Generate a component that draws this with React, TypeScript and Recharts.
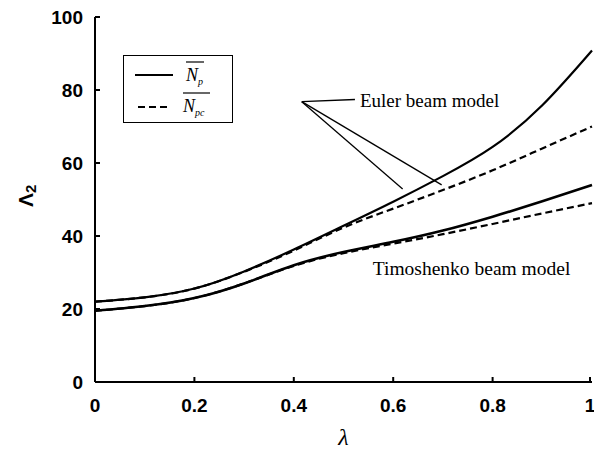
import React from 'react';
import { LineChart, Line, XAxis, YAxis, Legend, ReferenceLine, ReferenceDot } from 'recharts';

const lambdas = [0, 0.1, 0.2, 0.3, 0.4, 0.5, 0.6, 0.7, 0.8, 0.9, 1.0];
const eulerNp = [22, 23.2, 25.6, 30.3, 36.3, 42.8, 49.4, 56.4, 64.4, 75.8, 90.8];
const eulerNpc = [22, 23.2, 25.6, 30.2, 36, 42.3, 47.5, 52.6, 58, 64, 70];
const timoNp = [19.5, 20.8, 23, 27, 32, 35.6, 38.4, 41.5, 45.3, 49.5, 54];
const timoNpc = [19.5, 20.8, 23, 27, 31.8, 35.3, 37.9, 40.5, 43.3, 46.2, 49];

const xTicks = [0, 0.2, 0.4, 0.6, 0.8, 1];
const yTicks = [0, 20, 40, 60, 80, 100];

const data = lambdas.map((l, i) => ({
  lambda: l,
  eulerNp: eulerNp[i],
  eulerNpc: eulerNpc[i],
  timoNp: timoNp[i],
  timoNpc: timoNpc[i],
}));

const SANS = "'Liberation Sans', Arial, Helvetica, sans-serif";
const SERIF = "'Liberation Serif', 'Times New Roman', Times, serif";
const TICK_LEN = 5;

const fmtX = (v: number) => (v === 0 || v === 1 ? String(v) : v.toFixed(1));

const BottomTick = (props: any) => {
  const { x, y, payload } = props;
  return (
    <g>
      <line x1={x} y1={y} x2={x} y2={y - TICK_LEN} stroke="#000" strokeWidth={2} />
      <text x={x} y={y + 30} textAnchor="middle" fontFamily={SANS} fontSize={19} fontWeight="bold" fill="#000">
        {fmtX(payload.value)}
      </text>
    </g>
  );
};

const LeftTick = (props: any) => {
  const { x, y, payload } = props;
  return (
    <g>
      <line x1={x} y1={y} x2={x + TICK_LEN} y2={y} stroke="#000" strokeWidth={2} />
      <text x={x - 12} y={y + 7} textAnchor="end" fontFamily={SANS} fontSize={19} fontWeight="bold" fill="#000">
        {payload.value}
      </text>
    </g>
  );
};

const TopTick = (props: any) => {
  const { x, y } = props;
  return <line x1={x} y1={y} x2={x} y2={y + TICK_LEN} stroke="#000" strokeWidth={2} />;
};

const RightTick = (props: any) => {
  const { x, y } = props;
  return <line x1={x} y1={y} x2={x - TICK_LEN} y2={y} stroke="#000" strokeWidth={2} />;
};

const LegendBox = () => (
  <div style={{ width: 108, height: 66, border: '1.5px solid #000', background: '#fff' }}>
    <svg width={108} height={66}>
      <line x1={11} y1={19} x2={49} y2={19} stroke="#000" strokeWidth={2} />
      <line x1={14} y1={51} x2={47} y2={51} stroke="#000" strokeWidth={2} strokeDasharray="7 4" />
      <line x1={62} y1={6} x2={80} y2={6} stroke="#000" strokeWidth={1.2} />
      <text x={62} y={25} fontFamily={SERIF} fontStyle="italic" fontSize={18} fill="#000">
        N<tspan fontSize={10} dy={4}>p</tspan>
      </text>
      <line x1={59} y1={37} x2={86} y2={37} stroke="#000" strokeWidth={1.2} />
      <text x={59} y={56} fontFamily={SERIF} fontStyle="italic" fontSize={18} fill="#000">
        N<tspan fontSize={10} dy={4}>pc</tspan>
      </text>
    </svg>
  </div>
);

const XLabel = (props: any) => {
  const { viewBox } = props;
  return (
    <text x={viewBox.x + viewBox.width / 2} y={viewBox.y + 63} textAnchor="middle" fontFamily={SERIF} fontStyle="italic" fontSize={24} fill="#000">
      λ
    </text>
  );
};

const YLabel = () => (
  <g transform="translate(33, 207) rotate(-90)">
    <text x={0} y={0} fontFamily={SANS} fontSize={21} fontWeight="bold" fill="#000">
      Λ<tspan fontSize={15} dy={3}>2</tspan>
    </text>
  </g>
);

export default function App() {
  return (
    <div style={{ position: 'absolute', left: 0, top: 0, width: 594, height: 452, background: '#fff' }}>
      <LineChart width={594} height={452} data={data} margin={{ top: 17, right: 2, bottom: 8, left: 0 }}>
        <XAxis
          xAxisId="b"
          dataKey="lambda"
          type="number"
          domain={[0, 1]}
          ticks={xTicks}
          height={62}
          tickSize={0}
          tickMargin={0}
          tickLine={false}
          tick={BottomTick}
          axisLine={{ stroke: '#000', strokeWidth: 2 }}
          label={<XLabel />}
        />
        <XAxis
          xAxisId="t"
          orientation="top"
          type="number"
          domain={[0, 1]}
          ticks={xTicks}
          height={0}
          tickSize={0}
          tickMargin={0}
          tickLine={false}
          tick={TopTick}
          axisLine={{ stroke: '#000', strokeWidth: 2 }}
        />
        <YAxis
          yAxisId="l"
          type="number"
          domain={[0, 100]}
          ticks={yTicks}
          width={95}
          tickSize={0}
          tickMargin={0}
          tickLine={false}
          tick={LeftTick}
          axisLine={{ stroke: '#000', strokeWidth: 2 }}
          label={<YLabel />}
        />
        <YAxis
          yAxisId="r"
          orientation="right"
          type="number"
          domain={[0, 100]}
          ticks={yTicks}
          width={0}
          tickSize={0}
          tickMargin={0}
          tickLine={false}
          tick={RightTick}
          axisLine={{ stroke: '#000', strokeWidth: 2 }}
        />
        <Legend
          layout="vertical"
          align="center"
          verticalAlign="middle"
          wrapperStyle={{ left: 123, top: 55, width: 111, height: 69 }}
          content={<LegendBox />}
        />
        <Line xAxisId="b" yAxisId="l" type="natural" dataKey="eulerNp" stroke="#000" strokeWidth={2.2} dot={false} isAnimationActive={false} />
        <Line xAxisId="b" yAxisId="l" type="natural" dataKey="eulerNpc" stroke="#000" strokeWidth={2.2} strokeDasharray="7 4" dot={false} isAnimationActive={false} />
        <Line xAxisId="b" yAxisId="l" type="natural" dataKey="timoNp" stroke="#000" strokeWidth={2.6} dot={false} isAnimationActive={false} />
        <Line xAxisId="b" yAxisId="l" type="natural" dataKey="timoNpc" stroke="#000" strokeWidth={2.2} strokeDasharray="7 4" dot={false} isAnimationActive={false} />
        <ReferenceLine
          xAxisId="b"
          yAxisId="l"
          segment={[{ x: 0.416, y: 76.8 }, { x: 0.523, y: 77.4 }]}
          stroke="#000"
          strokeWidth={1.3}
          label={{ value: 'Euler beam model', position: 'right', offset: 5, fontFamily: SERIF, fontSize: 19, fill: '#000' }}
        />
        <ReferenceLine xAxisId="b" yAxisId="l" segment={[{ x: 0.416, y: 76.8 }, { x: 0.619, y: 52.9 }]} stroke="#000" strokeWidth={1.3} />
        <ReferenceLine xAxisId="b" yAxisId="l" segment={[{ x: 0.416, y: 76.8 }, { x: 0.6975, y: 54.0 }]} stroke="#000" strokeWidth={1.3} />
        <ReferenceDot
          xAxisId="b"
          yAxisId="l"
          x={0.559}
          y={31.2}
          r={0}
          stroke="none"
          fill="none"
          label={{ value: 'Timoshenko beam model', position: 'right', offset: 0, fontFamily: SERIF, fontSize: 19.5, fill: '#000' }}
        />
      </LineChart>
    </div>
  );
}
